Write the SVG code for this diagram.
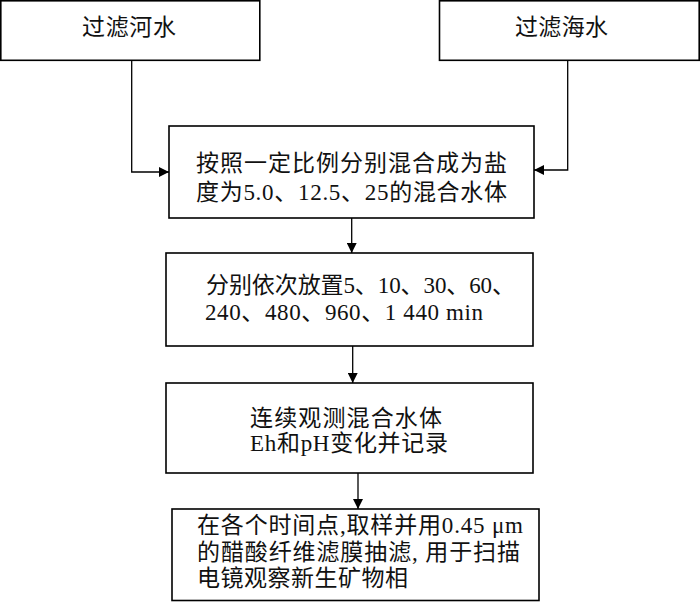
<svg xmlns="http://www.w3.org/2000/svg" width="700" height="602" viewBox="0 0 700 602">
<style>
.box{fill:#fff;stroke:#000;stroke-width:1.6}
.t{font-family:"Liberation Serif","Noto Sans CJK SC",serif;font-size:23px;fill:#111}
.c{fill:none;stroke:#000;stroke-width:1.3}
</style>
<defs>
<marker id="ah" markerWidth="10" markerHeight="10" refX="10" refY="5" orient="auto" markerUnits="userSpaceOnUse">
<path d="M0,0 L10,5 L0,10 Z" fill="#000"/>
</marker>
</defs>
<rect width="700" height="602" fill="#fff"/>
<g id="river">
<rect class="box" x="0.8" y="0.8" width="259" height="59.5"/>
<text class="t" x="82" y="35" textLength="94" lengthAdjust="spacing">过滤河水</text>
</g>
<g id="sea">
<rect class="box" x="439.5" y="0.8" width="259.7" height="59.5"/>
<text class="t" x="515" y="35" textLength="93" lengthAdjust="spacing">过滤海水</text>
</g>
<g id="mix">
<rect class="box" x="169" y="126" width="365" height="92"/>
<text class="t" x="196" y="171" textLength="311" lengthAdjust="spacing">按照一定比例分别混合成为盐</text>
<text class="t" x="196" y="200" textLength="311" lengthAdjust="spacing">度为5.0、12.5、25的混合水体</text>
</g>
<g id="place">
<rect class="box" x="166" y="253" width="367" height="93"/>
<text class="t" x="206" y="293" textLength="309" lengthAdjust="spacing">分别依次放置5、10、30、60、</text>
<text class="t" x="205" y="320" textLength="278" lengthAdjust="spacing">240、480、960、1 440 min</text>
</g>
<g id="observe">
<rect class="box" x="166" y="383" width="367" height="90"/>
<text class="t" x="250" y="426" textLength="192" lengthAdjust="spacing">连续观测混合水体</text>
<text class="t" x="250" y="451" textLength="198" lengthAdjust="spacing">Eh和pH变化并记录</text>
</g>
<g id="sample">
<rect class="box" x="172" y="509" width="367" height="91.5"/>
<text class="t" x="197" y="533" textLength="326" lengthAdjust="spacing">在各个时间点,取样并用0.45 μm</text>
<text class="t" x="197" y="560" textLength="323" lengthAdjust="spacing">的醋酸纤维滤膜抽滤, 用于扫描</text>
<text class="t" x="197" y="586" textLength="211" lengthAdjust="spacing">电镜观察新生矿物相</text>
</g>
<g id="connectors">
<path class="c" d="M131.7,60 V172 H169" marker-end="url(#ah)"/>
<path class="c" d="M567.7,60 V170 H534" marker-end="url(#ah)"/>
<path class="c" d="M351.7,218 V253" marker-end="url(#ah)"/>
<path class="c" d="M352.7,346 V383" marker-end="url(#ah)"/>
<path class="c" d="M358,473 V509" marker-end="url(#ah)"/>
</g>
</svg>
